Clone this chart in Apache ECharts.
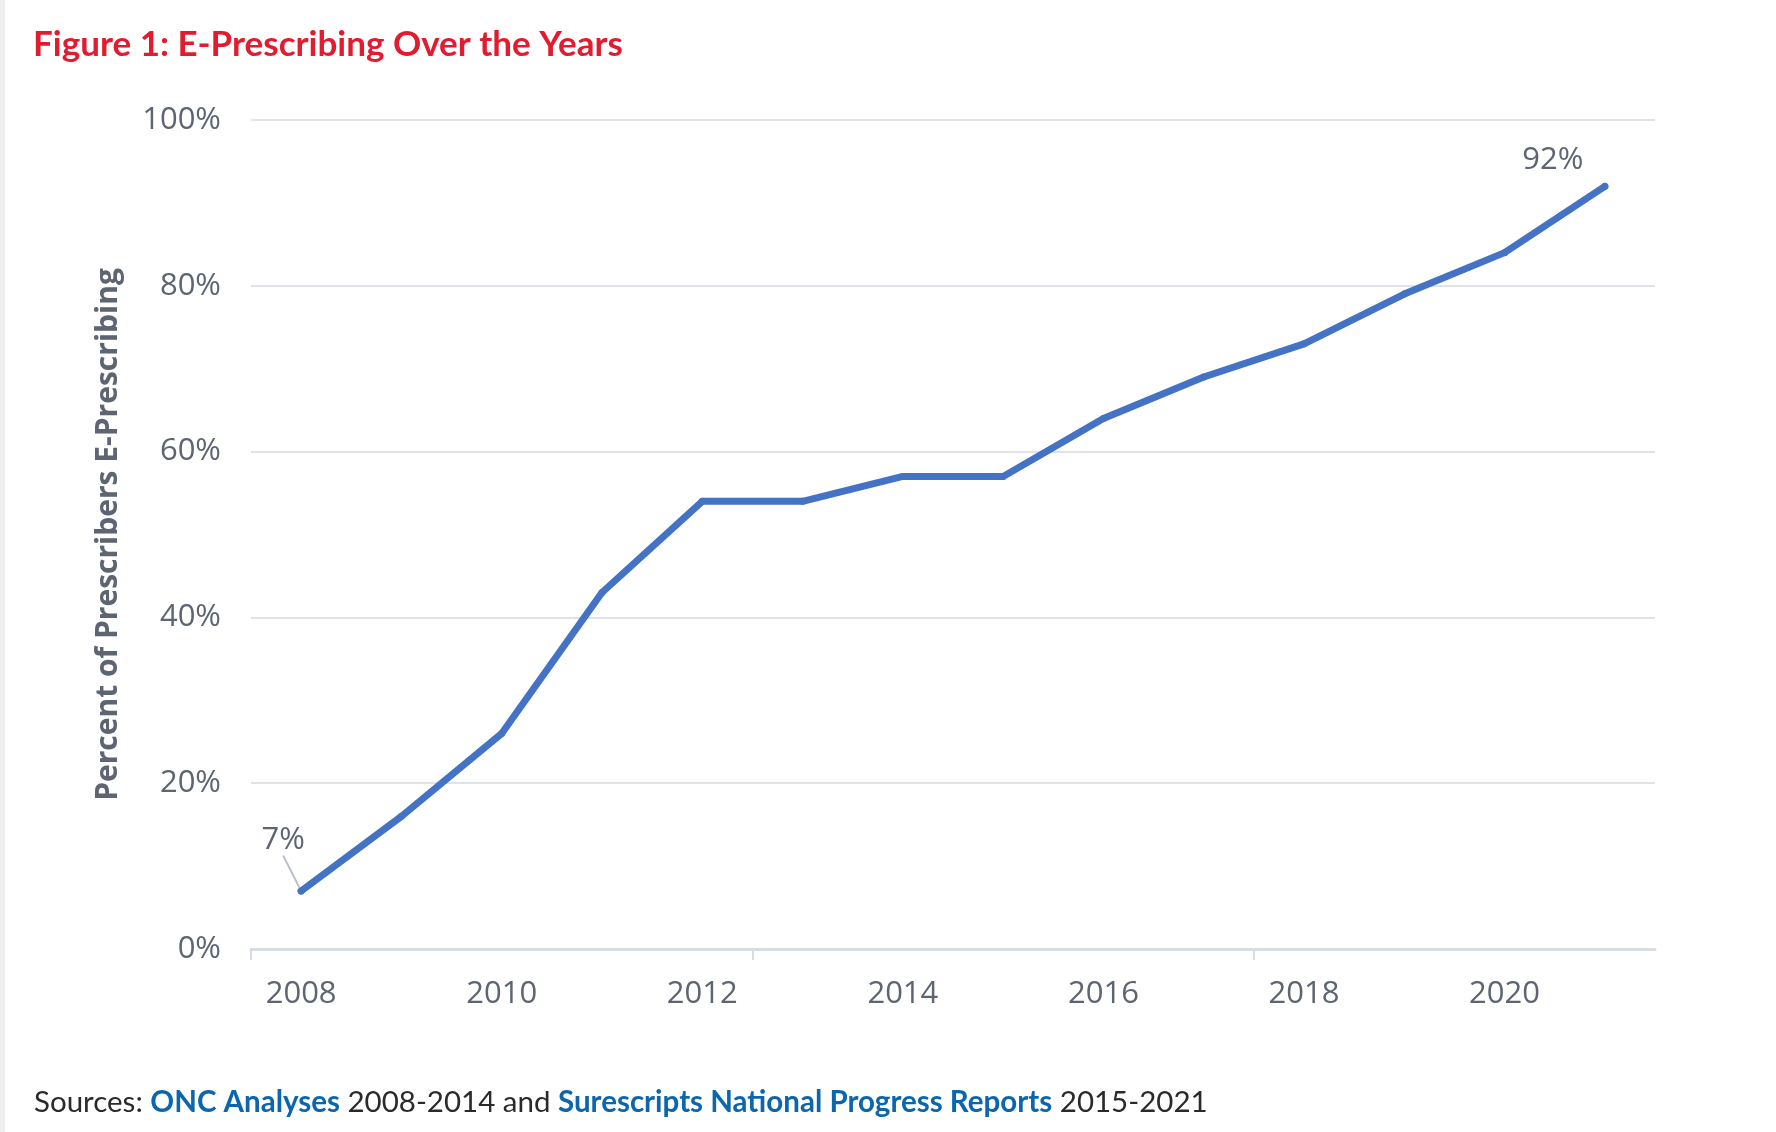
<!DOCTYPE html>
<html>
<head>
<meta charset="utf-8">
<script src="https://cdn.jsdelivr.net/npm/echarts@6/dist/echarts.min.js"></script>
<style>
html,body{margin:0;padding:0;background:#fff;}
#chart{width:1776px;height:1132px;}
</style>
</head>
<body>
<div id="chart"></div>
<script>
const years = ['2008','2009','2010','2011','2012','2013','2014','2015','2016','2017','2018','2019','2020','2021'];
const percentEPrescribing = [7, 16, 26, 43, 54, 54, 57, 57, 64, 69, 73, 79, 84, 92];
const yTicks = [0, 20, 40, 60, 80, 100];
const titleText = 'Figure 1: E-Prescribing Over the Years';
const yAxisName = 'Percent of Prescribers E-Prescribing';

const labelColor = '#5d6572';
const last = percentEPrescribing.length - 1;
const seriesData = percentEPrescribing.map((v, i) => {
  if (i === 0) {
    return {
      value: v,
      label: { show: true },
      labelLine: { show: true, lineStyle: { color: '#b9c0c8', width: 2 } }
    };
  }
  if (i === last) {
    return { value: v, label: { show: true } };
  }
  return v;
});
// band boundaries (one more than the categories) for the sparse tick axis
const yearBoundaries = years.concat(['']);

const chart = echarts.init(document.getElementById('chart'));
chart.setOption({
  backgroundColor: '#ffffff',
  animation: false,
  title: [
    {
      text: titleText,
      left: 33, top: 27, padding: 0,
      textStyle: { color: '#e31b2f', fontFamily: 'Lato', fontWeight: 'bold', fontSize: 35 }
    },
    {
      text: '{a|Sources: }{b|ONC Analyses}{a| 2008-2014 and }{b|Surescripts National Progress Reports}{a| 2015-2021}',
      left: 34, top: 1087, padding: 0,
      textStyle: {
        fontWeight: 'normal',
        rich: {
          a: { color: '#2a2a2a', fontFamily: 'Lato', fontSize: 29.5, fontWeight: 'normal' },
          b: { color: '#0b66ad', fontFamily: 'Lato', fontSize: 29.5, fontWeight: 'bold' }
        }
      }
    }
  ],
  graphic: [
    { type: 'rect', left: 0, top: 0, shape: { width: 5, height: 1132 }, style: { fill: '#eeeeee' } }
  ],
  grid: { left: 251, right: 121, top: 120, bottom: 183, containLabel: false },
  xAxis: [
    {
      type: 'category',
      data: years,
      boundaryGap: true,
      axisLine: { show: true, lineStyle: { color: '#d8dde4', width: 3 } },
      axisTick: { show: false },
      axisLabel: { interval: 1, margin: 30, color: labelColor, fontFamily: 'Open Sans', fontSize: 31 },
      splitLine: { show: false }
    },
    {
      type: 'category',
      data: yearBoundaries,
      boundaryGap: false,
      position: 'bottom',
      axisLine: { show: false },
      axisTick: { show: true, interval: 4, length: 11, lineStyle: { color: '#d8dde4', width: 2 } },
      axisLabel: { show: false },
      splitLine: { show: false }
    }
  ],
  yAxis: {
    type: 'value',
    min: yTicks[0], max: yTicks[yTicks.length - 1], interval: 20,
    name: yAxisName,
    nameLocation: 'middle',
    nameRotate: 90,
    nameGap: 128,
    nameTextStyle: { color: labelColor, fontFamily: 'Open Sans', fontWeight: 'bold', fontSize: 30 },
    axisLine: { show: false },
    axisTick: { show: false },
    axisLabel: { margin: 30, color: labelColor, fontFamily: 'Open Sans', fontSize: 31, formatter: '{value}%' },
    splitLine: { lineStyle: { color: '#dfe3e9', width: 2 } }
  },
  series: [{
    type: 'line',
    xAxisIndex: 0,
    data: seriesData,
    symbol: 'circle',
    symbolSize: 7,
    showSymbol: true,
    itemStyle: { color: '#4472c4' },
    lineStyle: { color: '#4472c4', width: 7, cap: 'round', join: 'round' },
    label: {
      show: false,
      position: 'top',
      formatter: '{c}%',
      color: labelColor,
      fontFamily: 'Open Sans',
      fontSize: 31
    },
    labelLayout: function (p) {
      if (p.dataIndex === 0) return { dx: -18, dy: -27 };
      if (p.dataIndex === last) return { dx: -52, dy: -2 };
      return {};
    },
    emphasis: { disabled: true }
  }]
});
</script>
</body>
</html>
